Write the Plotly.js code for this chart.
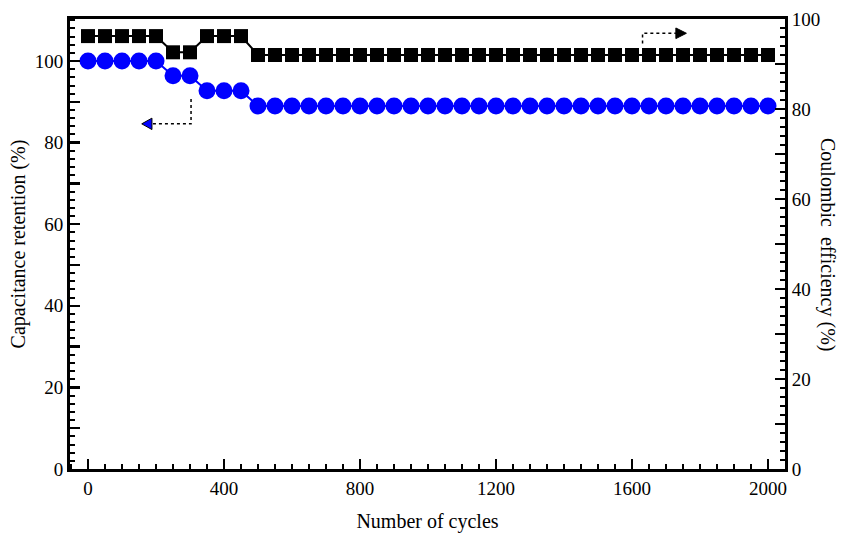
<!DOCTYPE html>
<html>
<head>
<meta charset="utf-8">
<script src="https://cdn.plot.ly/plotly-3.0.1.min.js"></script>
<style>html,body{margin:0;padding:0;background:#fff;}#chart{width:843px;height:533px;}</style>
</head>
<body>
<div id="chart"></div>
<script>
const cycles = [0,50,100,150,200,250,300,350,400,450,500,550,600,650,700,750,800,850,900,950,1000,1050,1100,1150,1200,1250,1300,1350,1400,1450,1500,1550,1600,1650,1700,1750,1800,1850,1900,1950,2000];
const capacitanceRetention = [100,100,100,100,100,96.4,96.4,92.7,92.7,92.7,89,89,89,89,89,89,89,89,89,89,89,89,89,89,89,89,89,89,89,89,89,89,89,89,89,89,89,89,89,89,89];
const coulombicEfficiency = [96.2,96.2,96.2,96.2,96.2,92.6,92.6,96.2,96.2,96.2,92,92,92,92,92,92,92,92,92,92,92,92,92,92,92,92,92,92,92,92,92,92,92,92,92,92,92,92,92,92,92];
const xTickVals = [0,400,800,1200,1600,2000];
const yTickVals = [0,10,20,30,40,50,60,70,80,90,100];
const yTickText = ['0','','20','','40','','60','','80','','100'];

const tickFont = {family: 'Liberation Serif', size: 19, color: '#000'};
const titleFont = {family: 'Liberation Serif', size: 20, color: '#000'};

const traces = [
  {x: cycles, y: coulombicEfficiency, yaxis: 'y2', type: 'scatter', mode: 'lines+markers',
   line: {color: '#000', width: 2}, marker: {symbol: 'square', size: 14, color: '#000'}, hoverinfo: 'skip'},
  {x: cycles, y: capacitanceRetention, yaxis: 'y', type: 'scatter', mode: 'lines+markers',
   line: {color: '#0000ff', width: 2}, marker: {symbol: 'circle', size: 17, color: '#0000ff'}, hoverinfo: 'skip'}
];

const axisCommon = {
  showgrid: false, zeroline: false, showline: true, linecolor: '#000', linewidth: 3,
  ticks: 'inside', ticklen: 10, tickwidth: 2.5, tickcolor: '#000', tickfont: tickFont
};

const layout = {
  width: 843, height: 533,
  margin: {l: 70, r: 58, t: 19, b: 64},
  paper_bgcolor: '#fff', plot_bgcolor: '#fff',
  showlegend: false, font: tickFont,
  xaxis: Object.assign({}, axisCommon, {
    range: [-53, 2050], tickvals: xTickVals, mirror: true,
    minor: {dtick: 50, ticklen: 5, tickwidth: 2, tickcolor: '#000', ticks: 'inside'},
    title: {text: 'Number of cycles', font: titleFont, standoff: 17}
  }),
  yaxis: Object.assign({}, axisCommon, {
    range: [0, 110.3], tickvals: yTickVals, ticktext: yTickText,
    minor: {dtick: 2, ticklen: 5, tickwidth: 2, tickcolor: '#000', ticks: 'inside'},
    title: {text: 'Capacitance retention (%)', font: titleFont, standoff: 4}
  }),
  yaxis2: Object.assign({}, axisCommon, {
    overlaying: 'y', side: 'right', anchor: 'x',
    range: [0, 100], tickvals: yTickVals, ticktext: yTickText,
    minor: {dtick: 2, ticklen: 5, tickwidth: 2, tickcolor: '#000', ticks: 'inside'}
  }),
  annotations: [
    {text: 'Coulombic  efficiency (%)', xref: 'paper', yref: 'paper', x: 1, y: 0.5,
     xanchor: 'center', yanchor: 'middle', xshift: 43, textangle: 90, showarrow: false, font: titleFont}
  ],
  shapes: [
    {type: 'path', xref: 'x', yref: 'y', path: 'M 303 90.7 L 303 84.6 L 190 84.6',
     line: {color: '#000', width: 1.5, dash: 'dot'}},
    {type: 'path', xref: 'x', yref: 'y', path: 'M 158 84.6 L 188 86.0 L 188 83.2 Z',
     fillcolor: '#0000ff', line: {color: '#000', width: 1}},
    {type: 'path', xref: 'x', yref: 'y', path: 'M 1631 104.3 L 1631 106.8 L 1729 106.8',
     line: {color: '#000', width: 1.5, dash: 'dot'}},
    {type: 'path', xref: 'x', yref: 'y', path: 'M 1760 106.8 L 1729 108.1 L 1729 105.5 Z',
     fillcolor: '#000', line: {color: '#000', width: 1}}
  ]
};

Plotly.newPlot('chart', traces, layout, {displayModeBar: false, staticPlot: true});
</script>
</body>
</html>
